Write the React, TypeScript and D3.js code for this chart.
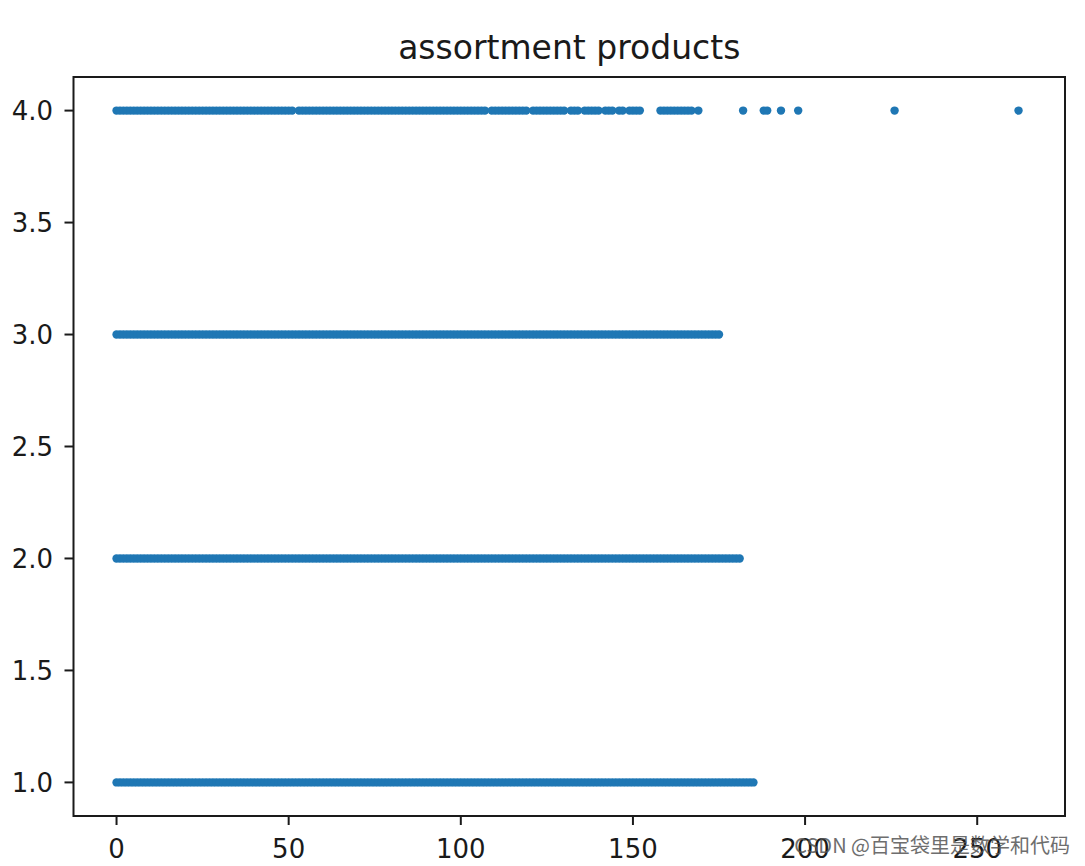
import React from "react";
import * as d3 from "d3";

// Chart texts
const title = "assortment products";
const watermark = "CSDN @百宝袋里是数学和代码";

// Axis ticks
const xTicks = [0, 50, 100, 150, 200, 250];
const yTicks = [1.0, 1.5, 2.0, 2.5, 3.0, 3.5, 4.0];

// Categories (y values)
const categories = [1, 2, 3, 4];

// Observed x values per category, read as runs of consecutive integers [start, end]
const runsCat1: [number, number][] = [[0, 185]];
const runsCat2: [number, number][] = [[0, 181]];
const runsCat3: [number, number][] = [[0, 175]];
const runsCat4: [number, number][] = [
  [0, 51], [53, 107], [109, 119], [121, 130],
  [132, 134], [136, 140], [142, 144], [146, 147], [149, 152],
  [158, 167], [169, 169],
];
// Isolated points in category 4
const singlesCat4 = [182, 188, 189, 193, 198, 226, 262];

const W = 1085;
const H = 866;
const left = 73.5;
const right = 1065;
const top = 77;
const bottom = 816;

function expand(runs: [number, number][]): number[] {
  const out: number[] = [];
  runs.forEach(([a, b]) => {
    for (let v = a; v <= b; v++) out.push(v);
  });
  return out;
}

export default function App() {
  const x = d3.scaleLinear().domain([-12.5, 275.5]).range([left, right]);
  const y = d3.scaleLinear().domain([0.85, 4.15]).range([bottom, top]);

  const series: { cat: number; xs: number[] }[] = [
    { cat: categories[0], xs: expand(runsCat1) },
    { cat: categories[1], xs: expand(runsCat2) },
    { cat: categories[2], xs: expand(runsCat3) },
    { cat: categories[3], xs: expand(runsCat4).concat(singlesCat4) },
  ];

  const font = "'DejaVu Sans', sans-serif";

  return (
    <svg
      width={W}
      height={H}
      style={{ position: "absolute", left: 0, top: 0, background: "#fff" }}
    >
      <rect x={0} y={0} width={W} height={H} fill="#fff" />
      <text
        x={(left + right) / 2}
        y={59}
        textAnchor="middle"
        fontFamily={font}
        fontSize={33}
        fill="#1a1a1a"
      >
        {title}
      </text>

      {series.map((s) =>
        s.xs.map((v) => (
          <circle
            key={`${s.cat}-${v}`}
            cx={x(v)}
            cy={y(s.cat)}
            r={4.2}
            fill="#1f77b4"
          />
        ))
      )}

      <rect
        x={left}
        y={top}
        width={right - left}
        height={bottom - top}
        fill="none"
        stroke="#1a1a1a"
        strokeWidth={2}
      />

      {xTicks.map((t) => (
        <g key={`xt-${t}`}>
          <line x1={x(t)} x2={x(t)} y1={bottom} y2={bottom + 9} stroke="#1a1a1a" strokeWidth={2} />
          <text
            x={x(t)}
            y={858}
            textAnchor="middle"
            fontFamily={font}
            fontSize={26}
            fill="#1a1a1a"
          >
            {t}
          </text>
        </g>
      ))}

      {yTicks.map((t) => (
        <g key={`yt-${t}`}>
          <line x1={left - 9} x2={left} y1={y(t)} y2={y(t)} stroke="#1a1a1a" strokeWidth={2} />
          <text
            x={53}
            y={y(t)}
            dy="0.36em"
            textAnchor="end"
            fontFamily={font}
            fontSize={26}
            fill="#1a1a1a"
          >
            {t.toFixed(1)}
          </text>
        </g>
      ))}

      <text
        x={1070}
        y={853}
        textAnchor="end"
        fontFamily="'Noto Sans CJK SC', 'DejaVu Sans', sans-serif"
        fontSize={20}
        fill="#555"
        opacity={0.85}
      >
        {watermark}
      </text>
    </svg>
  );
}
